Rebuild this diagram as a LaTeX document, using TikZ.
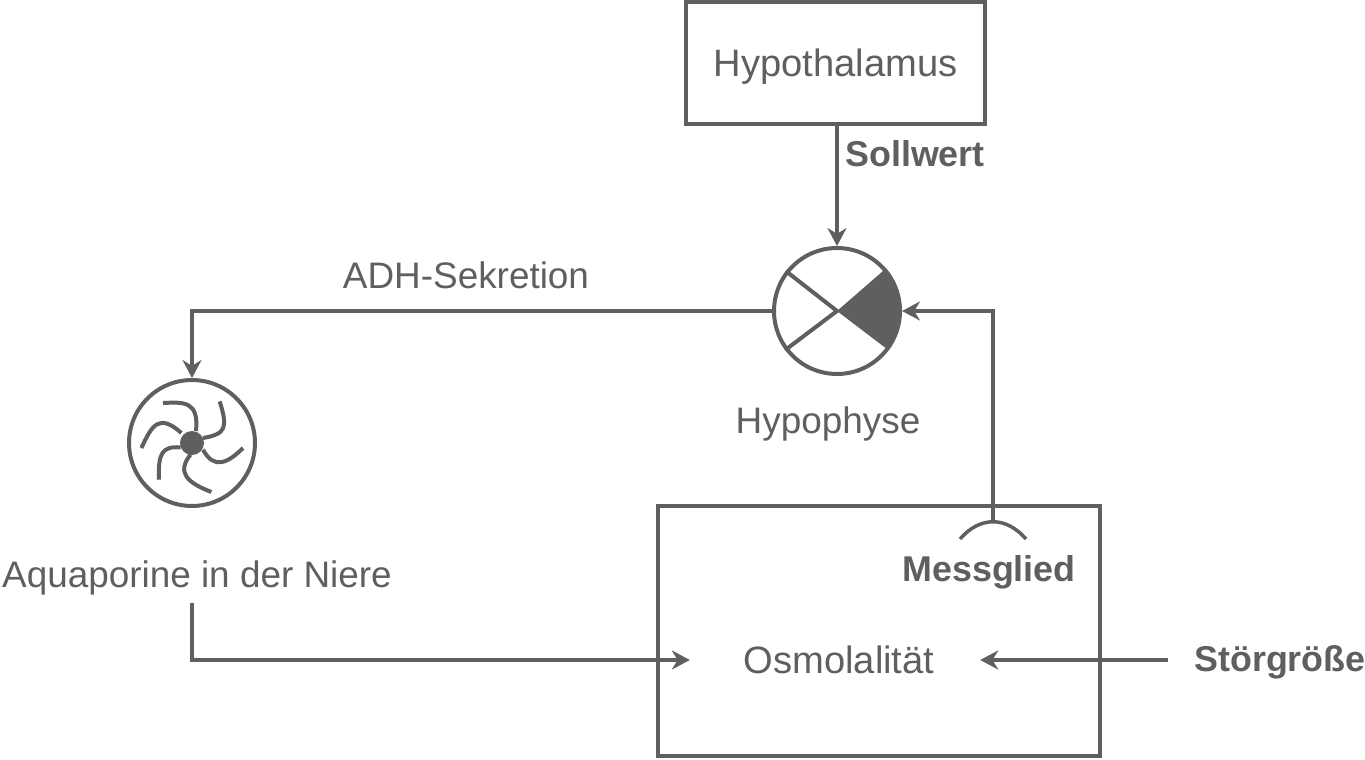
\documentclass[tikz,border=0pt]{standalone}
\usepackage{fontspec}
\setmainfont{Liberation Sans}
\usepackage{tikz}
\usetikzlibrary{arrows.meta}
\definecolor{dgray}{HTML}{5F5F5F}
\tikzset{
  lbl/.style={text=dgray,font=\fontsize{21}{25}\selectfont,inner sep=0pt},
  lblwide/.style={text=dgray,font=\fontsize{21.7}{25}\selectfont,inner sep=0pt},
  blbl/.style={text=dgray,font=\fontsize{20.4}{25}\selectfont\bfseries,inner sep=0pt},
  blockbox/.style={draw=dgray,line width=0.08cm,rectangle,inner sep=0pt},
  roundel/.style={draw=dgray,line width=0.08cm,circle,minimum size=2.52cm,inner sep=0pt},
  conn/.style={draw=dgray,line width=0.08cm,-{Stealth[length=0.36cm,width=0.38cm]}},
  plain/.style={draw=dgray,line width=0.08cm},
  blade/.style={draw=dgray,line width=0.08cm}
}
\begin{document}
\begin{tikzpicture}[x=0.02cm,y=-0.02cm]
      \useasboundingbox (0, 0) rectangle (1365, 760);
      % Blocks
      \node[blockbox,lblwide,text depth=0pt,minimum width=5.98cm,minimum height=2.44cm] (hypothalamus) at (835.5, 63) {Hypothalamus};
      \node[blockbox,minimum width=8.84cm,minimum height=5cm] (body) at (879, 631) {};
      \node[roundel] (hypophyse) at (837, 311) {};
      \node[roundel] (aquaporin) at (192, 443) {};
      %
      % Labels
      \node[blbl] (sollwert) at (915, 154) {Sollwert};
      \node[lbl] (adh) at (466, 275) {ADH-Sekretion};
      \node[lbl] (hypolabel) at (828, 424) {Hypophyse};
      \node[lbl,minimum height=0.98cm] (aqualabel) at (197, 578) {Aquaporine in der Niere};
      \node[blbl] (messglied) at (989, 572) {Messglied};
      \node[lblwide,inner xsep=1.07cm] (osmo) at (839, 660) {Osmolalität};
      \node[blbl] (stoer) at (1280, 662) {Störgröße};
      %
      % Sensor
      \coordinate (sensortop) at (993, 523);
      \coordinate (sensorleft) at (960, 539);
      \coordinate (sensorright) at (1026, 539);
      \coordinate (stoerstart) at (1168, 660);
      %
      % Sector symbol
      \fill[dgray] (hypophyse.center) -- (hypophyse.41) arc[start angle=-41, end angle=40, radius=62] -- cycle;
      \draw[plain] (hypophyse.142) -- (hypophyse.center) -- (hypophyse.-143);
      %
      % Aquaporin symbol
      \fill[dgray] (aquaporin.center) circle (12);
      \begin{scope}[shift={(aquaporin.center)}]
        \draw[blade] (-29, -40) .. controls (-8, -41) and (7, -42) .. (4, -12);
        \draw[blade] (27.7, -41.6) .. controls (36, -15) and (34, -9) .. (11, -5);
        \draw[blade] (51, 5) .. controls (36, 20) and (22, 27) .. (11, 6.7);
        \draw[blade] (19.4, 49) .. controls (-4, 40) and (-16, 30) .. (-1.6, 11.7);
        \draw[blade] (-33, 36.7) .. controls (-34, 10) and (-30, 3) .. (-11.3, 4.4);
        \draw[blade] (-50.6, 5) .. controls (-40, -18) and (-33, -30) .. (-10.6, -10);
      \end{scope}
      %
      % Connectors
      \draw[conn] (hypothalamus.south -| hypophyse.north) -- (hypophyse.north);
      \draw[conn] (hypophyse.west) -| (aquaporin.north);
      \draw[conn] (sensortop) |- (hypophyse.east);
      \draw[conn] (aqualabel.south -| aquaporin.south) |- (osmo.west);
      \draw[conn,shorten >=-0.16cm] (stoerstart) -- (osmo.east);
      \draw[plain,line width=0.07cm] (sensorleft) .. controls (980, 516) and (1006, 516) .. (sensorright);
\end{tikzpicture}
\end{document}
